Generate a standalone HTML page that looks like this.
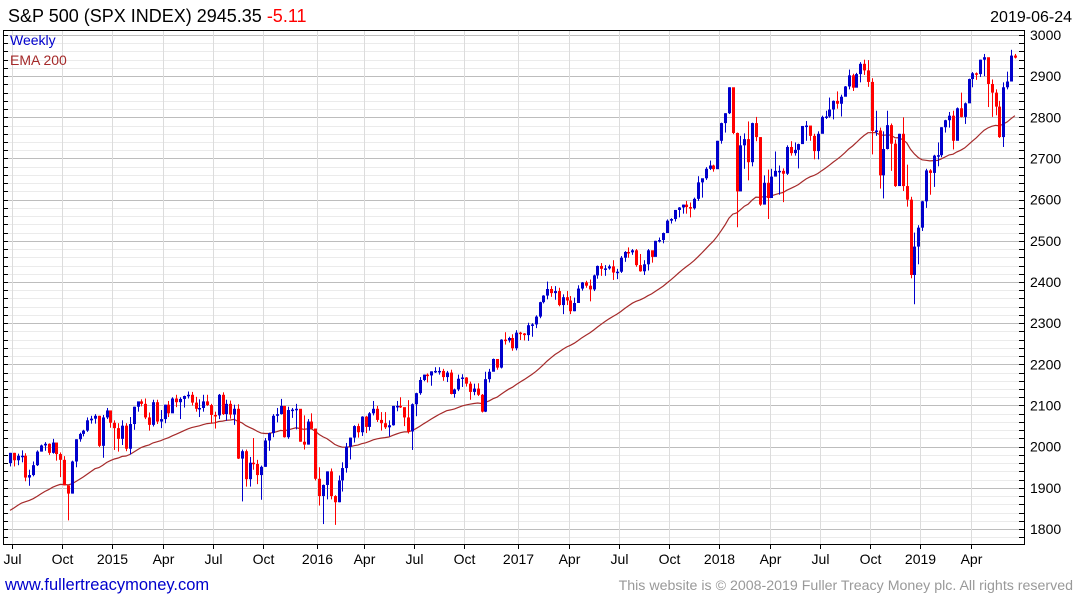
<!DOCTYPE html>
<html><head><meta charset="utf-8"><style>
html,body{margin:0;padding:0;background:#fff;}
svg{display:block;font-family:"Liberation Sans","DejaVu Sans",sans-serif;}
</style></head><body>
<svg id="chart" width="1075" height="600" viewBox="0 0 1075 600">
<text x="8" y="22" font-size="18" fill="#000">S&amp;P 500 (SPX INDEX) 2945.35 <tspan fill="#ff0000">-5.11</tspan></text>
<text x="1072" y="22" font-size="16" fill="#000" text-anchor="end">2019-06-24</text>
<g id="grid"></g>
<g id="ema"></g>
<g id="candles"></g>
<rect x="3.5" y="30.5" width="1021" height="514" fill="none" stroke="#000" stroke-width="1"/>
<g id="axes"></g>
<text x="10" y="45" font-size="14" fill="#0000cc">Weekly</text>
<text x="10" y="65" font-size="14" fill="#a52a2a">EMA 200</text>
<text x="5" y="590" font-size="16.5" fill="#0000cc">www.fullertreacymoney.com</text>
<text x="1073" y="590" font-size="14.2" fill="#999" text-anchor="end">This website is © 2008-2019 Fuller Treacy Money plc. All rights reserved</text>
</svg>
<script>
const closes = [1985,1967,1978,1978,1925,1931,1955,1988,2003,2007,1985,2010,1982,1968,1906,1886,1964,2018,2031,2039,2064,2068,2075,2002,2071,2088,
2058,2045,2019,2051,1995,2055,2097,2110,2104,2071,2053,2108,2061,2067,2102,2081,2117,2108,2116,2123,2126,2107,2092,2094,2110,2101,2077,2076,2126,2079,2104,2078,2092,1971,1989,1921,1961,1958,1931,1951,2015,2033,2075,2079,2099,2023,2089,2090,2092,2012,2005,2061,2044,
1922,1880,1907,1940,1880,1865,1918,1948,2000,2022,2050,2035,2073,2048,2081,2092,2065,2057,2047,2052,2099,2099,2096,2071,2037,2103,2130,2162,2175,2173,2183,2184,2184,2169,2180,2128,2139,2165,2168,2153,2133,2141,2126,2085,2164,2182,2213,2192,2260,2258,2264,2239,
2277,2275,2271,2295,2297,2316,2351,2367,2383,2373,2378,2344,2363,2355,2329,2349,2384,2399,2391,2382,2416,2439,2432,2433,2438,2423,2425,2459,2473,2472,2477,2441,2426,2443,2477,2461,2500,2502,2519,2549,2553,2575,2581,2588,2582,2579,2602,2642,2652,2675,2683,2674,
2743,2786,2810,2873,2762,2620,2732,2747,2691,2786,2752,2588,2641,2604,2656,2670,2670,2663,2728,2713,2721,2735,2779,2780,2755,2718,2760,2801,2802,2819,2840,2833,2850,2875,2902,2872,2905,2930,2914,2886,2767,2768,2659,2723,2781,2736,2633,2760,2633,2600,2417,2486,
2532,2596,2671,2665,2707,2708,2776,2793,2804,2743,2822,2801,2834,2893,2907,2905,2940,2946,2881,2860,2826,2752,2873,2887,2950,2945];
const highs = [1985,1985,1983,1991,1984,1944,1964,1991,2005,2011,2008,2019,2002,1986,1977,1898,1966,2018,2034,2041,2071,2075,2079,2075,2077,2094,
2072,2064,2057,2064,2057,2072,2097,2101,2115,2117,2083,2114,2114,2089,2102,2111,2120,2126,2120,2124,2134,2133,2121,2115,2126,2126,2104,2085,2128,2132,2114,2112,2102,2103,1993,1993,1975,2021,1968,1954,2021,2034,2079,2094,2116,2099,2097,2094,2104,2080,2076,2067,2081,
2038,1950,1908,1940,1947,1882,1930,1962,2009,2022,2052,2056,2074,2075,2084,2111,2099,2084,2084,2064,2099,2111,2120,2092,2113,2105,2131,2169,2175,2178,2183,2193,2193,2189,2184,2187,2141,2175,2176,2169,2158,2153,2154,2128,2182,2189,2214,2211,2261,2278,2267,2273,
2283,2279,2276,2301,2300,2319,2352,2368,2401,2390,2390,2386,2370,2378,2366,2362,2392,2400,2403,2406,2418,2440,2446,2441,2442,2453,2432,2463,2475,2484,2480,2480,2468,2453,2480,2471,2500,2508,2520,2552,2555,2575,2582,2588,2597,2593,2605,2657,2651,2679,2695,2685,
2743,2787,2810,2873,2871,2763,2755,2761,2790,2787,2801,2752,2659,2673,2675,2717,2683,2676,2732,2742,2739,2736,2779,2791,2775,2760,2766,2804,2816,2848,2841,2863,2855,2876,2916,2906,2908,2934,2940,2939,2895,2816,2775,2766,2816,2785,2746,2760,2800,2685,2607,2520,
2538,2597,2675,2674,2709,2739,2776,2794,2813,2816,2824,2860,2836,2894,2910,2909,2940,2954,2938,2892,2868,2840,2885,2911,2964,2954];
const lows = [1952,1952,1955,1962,1916,1905,1928,1953,1988,1990,1980,1983,1966,1926,1906,1821,1886,1950,2012,2025,2036,2056,2056,1999,1973,2067,
2046,1992,1988,2004,1989,1981,2041,2085,2098,2067,2039,2049,2055,2045,2057,2072,2086,2096,2067,2095,2117,2100,2085,2072,2085,2099,2056,2044,2067,2077,2063,2068,2053,1970,1867,1903,1903,1944,1909,1871,1951,1990,2023,2059,2078,2022,2019,2070,2042,2012,1993,2005,2043,
1918,1857,1812,1872,1872,1810,1865,1891,1937,1969,2010,2022,2026,2033,2039,2076,2060,2039,2043,2025,2051,2086,2094,2050,2032,1992,2074,2126,2159,2156,2148,2179,2175,2160,2157,2127,2119,2135,2145,2146,2114,2125,2123,2083,2084,2156,2184,2187,2190,2248,2253,2233,
2234,2259,2258,2257,2267,2288,2312,2348,2358,2364,2357,2341,2322,2344,2322,2329,2372,2379,2386,2353,2378,2408,2415,2415,2430,2405,2407,2422,2449,2459,2466,2437,2425,2417,2428,2447,2474,2496,2494,2520,2542,2547,2557,2566,2566,2557,2576,2597,2605,2648,2672,2668,
2683,2736,2763,2808,2759,2533,2648,2675,2647,2681,2742,2585,2594,2553,2610,2660,2612,2594,2660,2707,2707,2676,2736,2743,2743,2698,2698,2765,2796,2799,2795,2821,2802,2852,2868,2864,2874,2885,2903,2874,2710,2755,2627,2603,2722,2670,2631,2649,2621,2583,2409,2346,
2443,2524,2580,2612,2631,2681,2703,2763,2775,2722,2746,2800,2784,2848,2873,2891,2898,2900,2825,2801,2805,2750,2728,2868,2887,2943];
const firstOpen = 1960;
const emaSeed = 1838;
const yTicks = [1800,1900,2000,2100,2200,2300,2400,2500,2600,2700,2800,2900,3000];
const xTickLabels = ["Jul","Oct","2015","Apr","Jul","Oct","2016","Apr","Jul","Oct","2017","Apr","Jul","Oct","2018","Apr","Jul","Oct","2019","Apr"];
const xTickWeeks = [0,13,26,39,52,65,79,91,104,117,131,144,157,170,183,196,209,222,235,248];

const NS = "http://www.w3.org/2000/svg";
const X0 = 10, STEP = 3.865;
const xOf = i => X0 + i * STEP;
const yOf = v => 529 - (v - 1800) * 0.41167;
function mk(tag, attrs, parent){ const e=document.createElementNS(NS,tag); for(const k in attrs) e.setAttribute(k,attrs[k]); parent.appendChild(e); return e; }

const grid = document.getElementById('grid');
const axes = document.getElementById('axes');
for (let v = 1780; v <= 3000; v += 20) {
  const y = Math.round(yOf(v)) + 0.5;
  if (y < 31 || y > 544) continue;
  const major = v % 100 === 0;
  const l = mk('line',{x1:4,x2:1024,y1:y,y2:y,stroke: major?'#bdbdbd':'#ebebeb','stroke-width':1},grid);
  
  
  const t1 = mk('line',{x1:1019,x2:1024,y1:y,y2:y,stroke:'#000'},axes);
  
  
  const t2 = mk('line',{x1:4,x2:8,y1:y,y2:y,stroke:'#000'},axes);
  
  
}
yTicks.forEach(v => {
  const t = mk('text',{x:1030,y:yOf(v)+5,'font-size':14,fill:'#000'},axes);
  t.textContent = v;
  
  
});
xTickWeeks.forEach((w, k) => {
  const x = Math.round(xOf(w) + 2) + 0.5;
  const g = mk('line',{x1:x,x2:x,y1:31,y2:544,stroke:'#dcdcdc'},grid);
  
  
  const tk = mk('line',{x1:x,x2:x,y1:544,y2:549,stroke:'#000'},axes);
  
  
  const t = mk('text',{x:x,y:564,'font-size':14,fill:'#000','text-anchor':'middle'},axes);
  t.textContent = xTickLabels[k];
  
  
});

const alpha = 2 / 41;
let ema = emaSeed, pts = [];
closes.forEach((c, i) => { ema = ema + alpha * (c - ema); pts.push(xOf(i).toFixed(1) + ',' + yOf(ema).toFixed(1)); });
const emaLine = mk('polyline',{points:pts.join(' '),fill:'none',stroke:'#a52a2a','stroke-width':1.2},document.getElementById('ema'));



const cg = document.getElementById('candles');
closes.forEach((c, i) => {
  const o = i === 0 ? firstOpen : closes[i-1];
  const col = c >= o ? '#0000cc' : '#ff0000';
  const x = Math.round(xOf(i));
  const w = mk('rect',{x:x,y:yOf(highs[i]),width:1,height:Math.max(1,yOf(lows[i])-yOf(highs[i])),fill:col},cg);
  
  
  const top = yOf(Math.max(o,c)), bot = yOf(Math.min(o,c));
  const b = mk('rect',{x:x-1,y:top,width:3,height:Math.max(1.5,bot-top),fill:col},cg);
  
  
});
</script>
</body></html>
